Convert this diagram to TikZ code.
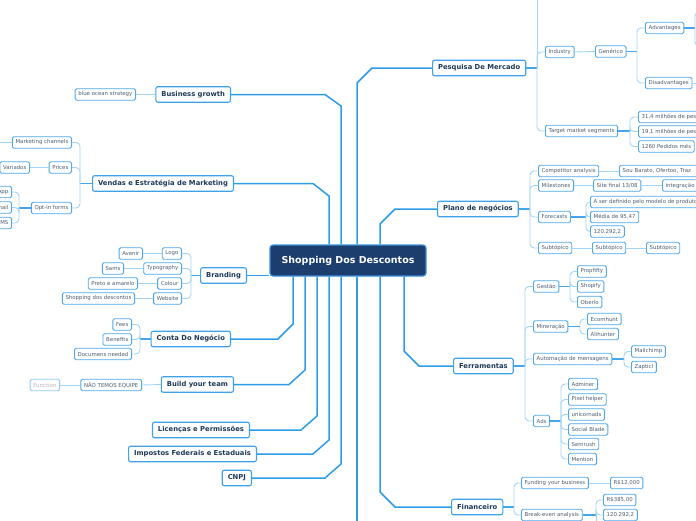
\documentclass[tikz,border=0pt]{standalone}
\usepackage{fontspec}
\setmainfont{DejaVu Sans}
\usetikzlibrary{positioning,calc}
\definecolor{rootfill}{HTML}{1B3E6F}
\definecolor{rootline}{HTML}{3A90DA}
\definecolor{topline}{HTML}{3DA2EA}
\definecolor{topictext}{HTML}{1D3A58}
\definecolor{leafline}{HTML}{4DA8EC}
\definecolor{leaftext}{HTML}{4E5F72}
\definecolor{ghostline}{HTML}{8FCBF2}
\definecolor{ghosttext}{HTML}{B5B5B5}
\definecolor{trunkc}{HTML}{2D9CE8}
\definecolor{stemc}{HTML}{45A5EA}
\definecolor{twigc}{HTML}{A3D4F5}

\begin{document}
\begin{tikzpicture}[x=1pt,y=-1pt,
  root/.style={draw=rootline, line width=1.2pt, rounded corners=3pt, fill=rootfill, text=white, font=\fontsize{9.5}{11}\selectfont\bfseries, minimum width=156pt, minimum height=31pt},
  topic/.style={draw=topline, line width=1.1pt, rounded corners=2pt, fill=white, text=topictext, font=\fontsize{6.8}{8}\selectfont\bfseries, minimum height=15.5pt, inner xsep=5.5pt, inner ysep=0pt},
  leaf/.style={draw=leafline, line width=0.9pt, rounded corners=1.5pt, fill=white, text=leaftext, font=\fontsize{5.4}{6}\selectfont, minimum height=11.5pt, inner xsep=3.2pt, inner ysep=0pt},
  ghost/.style={leaf, draw=ghostline, text=ghosttext},
  trunk/.style={draw=trunkc, line width=1.5pt},
  stem/.style={draw=stemc, line width=1.2pt},
  twig/.style={draw=twigc, line width=0.9pt, rounded corners=4pt},
]
\clip (0,0) rectangle (696,520);
% central topic
\node[root] (root) at (348,260.5) {Shopping Dos Descontos};
% main topics, left
\node[topic, anchor=east] (bg) at (231,94.5) {Business growth};
\node[topic, anchor=east] (ven) at (234,183.5) {Vendas e Estratégia de Marketing};
\node[topic, anchor=east] (br) at (247,275.5) {Branding};
\node[topic, anchor=east] (cdn) at (231,339) {Conta Do Negócio};
\node[topic, anchor=east] (byt) at (234,384.5) {Build your team};
\node[topic, anchor=east] (lic) at (250,430) {Licenças e Permissões};
\node[topic, anchor=east] (imp) at (257,454) {Impostos Federais e Estaduais};
\node[topic, anchor=east] (cnpj) at (252,478) {CNPJ};
% main topics, right
\node[topic, anchor=west] (pes) at (432,68) {Pesquisa De Mercado};
\node[topic, anchor=west] (pla) at (437,209) {Plano de negócios};
\node[topic, anchor=west] (fer) at (453,366) {Ferramentas};
\node[topic, anchor=west] (fin) at (451,507) {Financeiro};
% trunks
\draw[trunk] (bg.east) -- (325,0 |- bg.east) -- (341,106) -- (341,0 |- root.north);
\draw[trunk] (ven.east) -- (313,0 |- ven.east) -- (329,196) -- (329,0 |- root.north);
\draw[trunk] (br.east) -- (root.west |- br.east);
\draw[trunk] (cdn.east) -- (278,0 |- cdn.east) -- (293,324) -- (293,0 |- root.south);
\draw[trunk] (byt.east) -- (289,0 |- byt.east) -- (305,370) -- (305,0 |- root.south);
\draw[trunk] (lic.east) -- (301,0 |- lic.east) -- (317,416) -- (317,0 |- root.south);
\draw[trunk] (imp.east) -- (313,0 |- imp.east) -- (329,440) -- (329,0 |- root.south);
\draw[trunk] (cnpj.east) -- (325,0 |- cnpj.east) -- (341,464) -- (341,0 |- root.south);
\draw[trunk] (357,0 |- root.north) -- (357,83) -- (372,68) -- (pes.west);
\draw[trunk] (380,0 |- root.north) -- (380,224) -- (395,209) -- (pla.west);
\draw[trunk] (404,0 |- root.south) -- (404,351) -- (419,366) -- (fer.west);
\draw[trunk] (380,0 |- root.south) -- (380,492) -- (395,507) -- (fin.west);
\draw[trunk] (357,0 |- root.south) -- (357,525);
% business growth
\node[leaf, anchor=east] (blue) at (136,94.5) {blue ocean strategy};
\draw[twig] (bg.west) -- (blue.east);
% vendas
\node[leaf, anchor=east] (mkt) at (72,142.5) {Marketing channels};
\node[leaf, anchor=east] (pri) at (72,167.5) {Prices};
\node[leaf, anchor=east] (var) at (30,167.5) {Variados};
\node[leaf, anchor=east] (opt) at (72,208) {Opt-in forms};
\node[leaf, anchor=east] (wha) at (12,192) {WhatsApp};
\node[leaf, anchor=east] (ema) at (12,207.5) {Email};
\node[leaf, anchor=east] (sms) at (12,223) {SMS};
\draw[stem] (ven.west) -- (80,0 |- ven.west);
\foreach \c in {mkt,pri,opt} { \draw[twig] (80,0 |- ven.west) |- (\c.east); }
\draw[twig] (pri.west) -- (var.east);
\draw[twig] (mkt.west) -- (-5,0 |- mkt.west);
\draw[stem] (opt.west) -- (19,0 |- opt.west);
\foreach \c in {wha,ema,sms} { \draw[twig] (19,0 |- opt.west) |- (\c.east); }
% branding
\node[leaf, anchor=east] (logo) at (182,253.5) {Logo};
\node[leaf, anchor=east] (typ) at (182,268.5) {Typography};
\node[leaf, anchor=east] (col) at (182,283.5) {Colour};
\node[leaf, anchor=east] (web) at (182,298.5) {Website};
\node[leaf, anchor=east] (ave) at (143,253.5) {Avenir};
\node[leaf, anchor=east] (sams) at (124,268.5) {Sams};
\node[leaf, anchor=east] (pre) at (138,283.5) {Preto e amarelo};
\node[leaf, anchor=east] (sdd) at (135,298.5) {Shopping dos descontos};
\draw[stem] (br.west) -- (191,0 |- br.west);
\foreach \c in {logo,typ,col,web} { \draw[twig] (191,0 |- br.west) |- (\c.east); }
\draw[twig] (logo.west) -- (ave.east);
\draw[twig] (typ.west) -- (sams.east);
\draw[twig] (col.west) -- (pre.east);
\draw[twig] (web.west) -- (sdd.east);
% conta
\node[leaf, anchor=east] (fees) at (132,324.5) {Fees};
\node[leaf, anchor=east] (ben) at (132,339.5) {Benefits};
\node[leaf, anchor=east] (doc) at (132,354) {Documens needed};
\draw[stem] (cdn.west) -- (140,0 |- cdn.west);
\foreach \c in {fees,ben,doc} { \draw[twig] (140,0 |- cdn.west) |- (\c.east); }
% team
\node[leaf, anchor=east] (nte) at (142,385) {NÃO TEMOS EQUIPE};
\node[ghost, anchor=east] (fun) at (60,385) {Function};
\draw[twig] (byt.west) -- (nte.east);
\draw[twig] (nte.west) -- (fun.east);
% pesquisa
\node[leaf, anchor=west] (ind) at (545,52) {Industry};
\node[leaf, anchor=west] (gen) at (595,51.5) {Genérico};
\node[leaf, anchor=west] (adv) at (645,28) {Advantages};
\node[leaf, anchor=west] (dis) at (645,83) {Disadvantages};
\node[leaf, anchor=west] (tms) at (545,131) {Target market segments};
\node[leaf, anchor=west] (t1) at (638,117) {31,4 milhões de pessoas};
\node[leaf, anchor=west] (t2) at (638,131.5) {19,1 milhões de pessoas};
\node[leaf, anchor=west] (t3) at (638,146.5) {1260 Pedidos mês};
\draw[stem] (pes.east) -- (537,0 |- pes.east);
\foreach \c in {ind,tms} { \draw[twig] (537,0 |- pes.east) |- (\c.west); }
\draw[twig] (537,0 |- pes.east) -- (537,-5);
\draw[twig] (ind.east) -- (gen.west);
\draw[stem] (gen.east) -- (637,0 |- gen.east);
\foreach \c in {adv,dis} { \draw[twig] (637,0 |- gen.east) |- (\c.west); }
\draw[stem] (adv.east) -- (695,0 |- adv.east);
\draw[twig] (695,0 |- adv.east) |- (700,12);
\draw[twig] (695,0 |- adv.east) |- (700,46);
\draw[twig] (dis.east) -- (700,0 |- dis.east);
\draw[stem] (tms.east) -- (630,0 |- tms.east);
\foreach \c in {t1,t2,t3} { \draw[twig] (630,0 |- tms.east) |- (\c.west); }
% plano
\node[leaf, anchor=west] (cmp) at (538,171) {Competitor analysis};
\node[leaf, anchor=west, text width=95pt, align=left] (sou) at (619,171) {Sou Barato, Ofertoo, Traz};
\node[leaf, anchor=west] (mil) at (538,185.5) {Milestones};
\node[leaf, anchor=west] (sit) at (593,185.5) {Site final 13/08};
\node[leaf, anchor=west, text width=50pt, align=left] (itg) at (662,185.5) {integração};
\node[leaf, anchor=west] (fct) at (538,217) {Forecasts};
\node[leaf, anchor=west] (f1) at (590,202) {A ser definido pelo modelo de produto};
\node[leaf, anchor=west] (f2) at (590,217) {Média de 95,47};
\node[leaf, anchor=west] (f3) at (590,231.5) {120.292,2};
\node[leaf, anchor=west] (sb1) at (538,248) {Subtópico};
\node[leaf, anchor=west] (sb2) at (592,248) {Subtópico};
\node[leaf, anchor=west] (sb3) at (646,248) {Subtópico};
\draw[stem] (pla.east) -- (530,0 |- pla.east);
\foreach \c in {cmp,mil,fct,sb1} { \draw[twig] (530,0 |- pla.east) |- (\c.west); }
\draw[twig] (cmp.east) -- (sou.west);
\draw[twig] (mil.east) -- (sit.west);
\draw[twig] (sit.east) -- (itg.west);
\draw[stem] (fct.east) -- (586,0 |- fct.east);
\foreach \c in {f1,f2,f3} { \draw[twig] (586,0 |- fct.east) |- (\c.west); }
\draw[twig] (sb1.east) -- (sb2.west);
\draw[twig] (sb2.east) -- (sb3.west);
% ferramentas
\node[leaf, anchor=west] (gst) at (533,286.5) {Gestão};
\node[leaf, anchor=west] (prf) at (577,271.5) {Propfifty};
\node[leaf, anchor=west] (shp) at (577,286.5) {Shopify};
\node[leaf, anchor=west] (obe) at (577,302) {Oberlo};
\node[leaf, anchor=west] (mnr) at (533,326.5) {Mineração};
\node[leaf, anchor=west] (eco) at (587,319) {Ecomhunt};
\node[leaf, anchor=west] (ali) at (587,334) {Alihunter};
\node[leaf, anchor=west] (aut) at (533,359) {Automação de mensagens};
\node[leaf, anchor=west] (mch) at (631,351.5) {Mailchimp};
\node[leaf, anchor=west] (zap) at (631,367) {Zapticl};
\node[leaf, anchor=west] (ads) at (533,421) {Ads};
\node[leaf, anchor=west] (adm) at (568,384) {Adminer};
\node[leaf, anchor=west] (pix) at (568,399.5) {Pixel helper};
\node[leaf, anchor=west] (uni) at (568,414.5) {unicornads};
\node[leaf, anchor=west] (soc) at (568,429.5) {Social Blade};
\node[leaf, anchor=west] (sem) at (568,444) {Semrush};
\node[leaf, anchor=west] (men) at (568,459) {Mention};
\draw[stem] (fer.east) -- (525,0 |- fer.east);
\foreach \c in {gst,mnr,aut,ads} { \draw[twig] (525,0 |- fer.east) |- (\c.west); }
\draw[stem] (gst.east) -- (570,0 |- gst.east);
\foreach \c in {prf,shp,obe} { \draw[twig] (570,0 |- gst.east) |- (\c.west); }
\draw[stem] (mnr.east) -- (580,0 |- mnr.east);
\foreach \c in {eco,ali} { \draw[twig] (580,0 |- mnr.east) |- (\c.west); }
\draw[stem] (aut.east) -- (624,0 |- aut.east);
\foreach \c in {mch,zap} { \draw[twig] (624,0 |- aut.east) |- (\c.west); }
\draw[stem] (ads.east) -- (561,0 |- ads.east);
\foreach \c in {adm,pix,uni,soc,sem,men} { \draw[twig] (561,0 |- ads.east) |- (\c.west); }
% financeiro
\node[leaf, anchor=west] (fyb) at (521,483) {Funding your business};
\node[leaf, anchor=west] (r12) at (610,483) {R\$12,000};
\node[leaf, anchor=west] (bea) at (521,515) {Break-even analysis};
\node[leaf, anchor=west] (r385) at (603,500) {R\$385,00};
\node[leaf, anchor=west] (r120) at (603,515) {120.292,2};
\draw[stem] (fin.east) -- (514,0 |- fin.east);
\foreach \c in {fyb,bea} { \draw[twig] (514,0 |- fin.east) |- (\c.west); }
\draw[twig] (fyb.east) -- (r12.west);
\draw[stem] (bea.east) -- (596,0 |- bea.east);
\foreach \c in {r385,r120} { \draw[twig] (596,0 |- bea.east) |- (\c.west); }
\draw[twig] (596,0 |- bea.east) -- (596,525);
\end{tikzpicture}
\end{document}
